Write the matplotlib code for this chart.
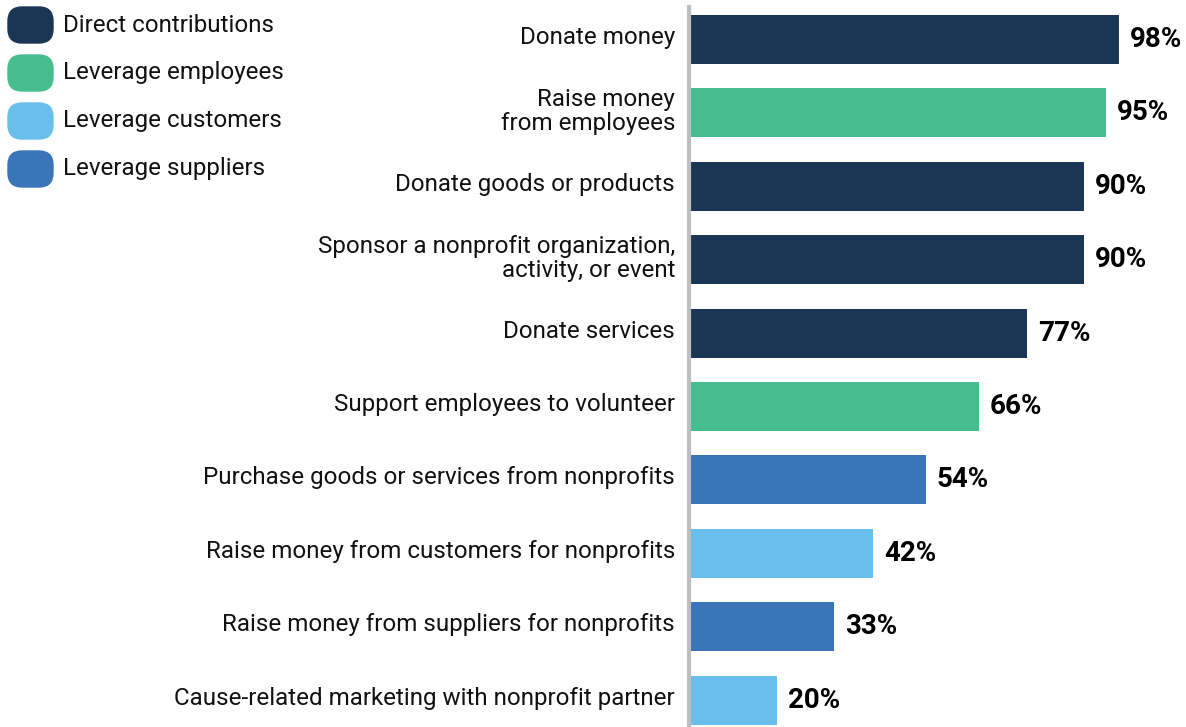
import matplotlib.pyplot as plt
from matplotlib.patches import FancyBboxPatch
from matplotlib.transforms import IdentityTransform, ScaledTranslation

plt.rcParams['font.family'] = ['Roboto', 'DejaVu Sans']

# categories top to bottom, with share of companies and contribution type
categories = [
    "Donate money",
    "Raise money\nfrom employees",
    "Donate goods or products",
    "Sponsor a nonprofit organization,\nactivity, or event",
    "Donate services",
    "Support employees to volunteer",
    "Purchase goods or services from nonprofits",
    "Raise money from customers for nonprofits",
    "Raise money from suppliers for nonprofits",
    "Cause-related marketing with nonprofit partner",
]
values = [98, 95, 90, 90, 77, 66, 54, 42, 33, 20]
groups = ["direct", "employees", "direct", "direct", "direct",
          "employees", "suppliers", "customers", "suppliers", "customers"]

group_names = ["Direct contributions", "Leverage employees",
               "Leverage customers", "Leverage suppliers"]
group_keys = ["direct", "employees", "customers", "suppliers"]
colors = {"direct": "#1b3654", "employees": "#45bd8e",
          "customers": "#68bfeb", "suppliers": "#3a74b9"}

W, H = 1186, 727
fig = plt.figure(figsize=(W / 100, H / 100), dpi=100)
ax = fig.add_axes([689 / W, 0, 1 - 689 / W, 720 / H])

ypos = list(range(len(categories)))
ax.barh(ypos, values, height=0.667, color=[colors[g] for g in groups])
ax.set_ylim(9.367, -0.443)
ax.set_xlim(0, 113.3)

for y, v in zip(ypos, values):
    ax.annotate(f"{v}%", (v, y), xytext=(8, 0), textcoords="offset points",
                va="center", ha="left", fontsize=20, fontweight="bold", color="black")

ax.set_yticks(ypos)
ax.set_yticklabels(categories, fontsize=17.4, color="#111111", linespacing=1.05)
ax.tick_params(axis="y", length=0, pad=10)
# nudge category labels up a little
lift = ScaledTranslation(0, 0.045, fig.dpi_scale_trans)
for lab in ax.get_yticklabels():
    lab.set_transform(lab.get_transform() + lift)
ax.set_xticks([])
for s in ["top", "right", "bottom"]:
    ax.spines[s].set_visible(False)
ax.spines["left"].set_color("#bdbec0")
ax.spines["left"].set_linewidth(3)

# legend with rounded swatches, laid out in pixels
for i, (name, key) in enumerate(zip(group_names, group_keys)):
    cy = 25 + i * 48
    box = FancyBboxPatch((8, H - cy - 18), 45, 36,
                         boxstyle="round,pad=0,rounding_size=14",
                         transform=IdentityTransform(), color=colors[key])
    fig.patches.append(box)
    fig.text(63 / W, (H - cy) / H, name, fontsize=17.4, va="center", ha="left",
             color="#111111")

fig.savefig("out.png", dpi=100)
